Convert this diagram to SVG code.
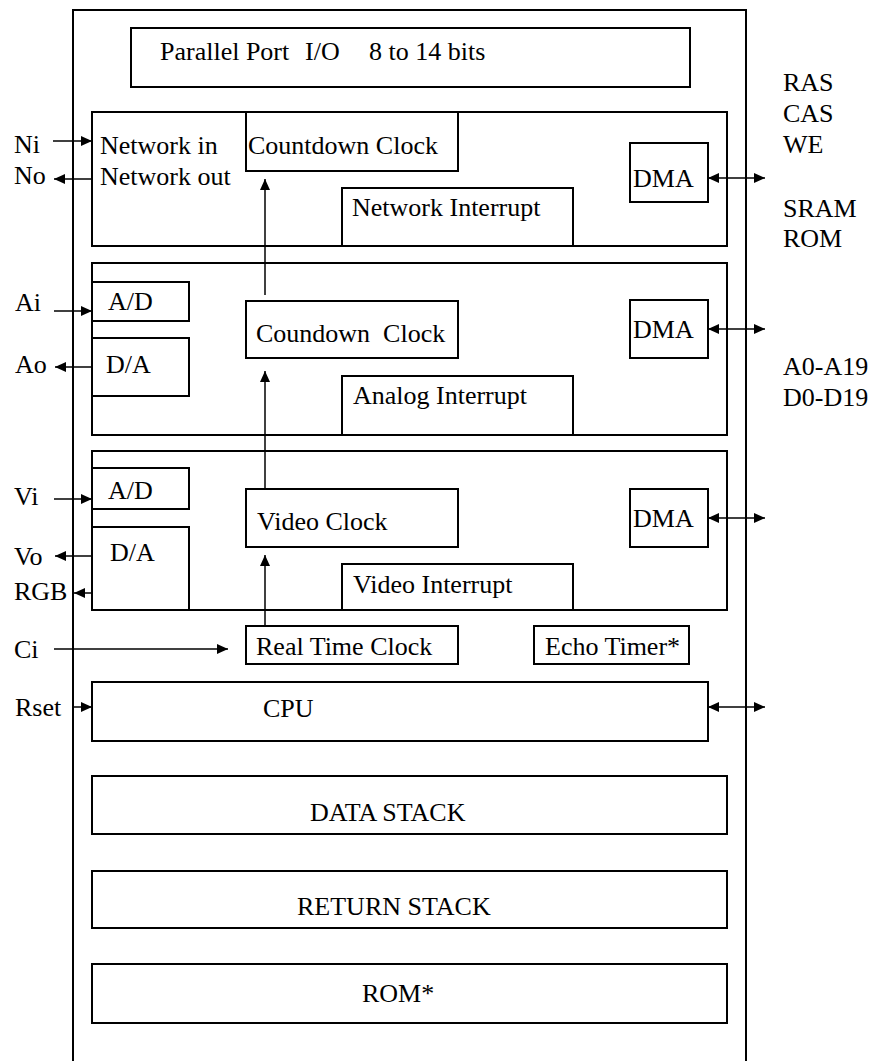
<svg xmlns="http://www.w3.org/2000/svg" width="873" height="1061" viewBox="0 0 873 1061">
<style>
.b{fill:#fff;stroke:#000;stroke-width:2}
.bn{fill:none;stroke:#000;stroke-width:2}
.c{fill:none;stroke:#000;stroke-width:1.5}
text{font-family:"Liberation Serif","Times New Roman",serif;font-size:26px;fill:#000}
</style>
<defs>
<marker id="ah" markerUnits="userSpaceOnUse" markerWidth="12" markerHeight="10" refX="11" refY="5" orient="auto-start-reverse" viewBox="0 0 12 10">
<path d="M0,0 L11,5 L0,10 z" fill="#000"/>
</marker>
</defs>
<rect width="873" height="1061" fill="#fff"/>
<g id="chip"><path class="bn" d="M73,1065 V10 H746 V1065"/></g>
<g id="parallel"><rect class="b" x="131" y="28" width="559" height="59"/>
<text y="60"><tspan x="160">Parallel Port</tspan><tspan x="305">I/O</tspan><tspan x="369">8 to 14 bits</tspan></text></g>
<g id="network"><rect class="b" x="92" y="112" width="635" height="134"/>
<text x="100" y="154">Network in</text><text x="100" y="185">Network out</text></g>
<g id="countdown1"><rect class="b" x="246" y="112" width="212" height="59"/><text x="248" y="154">Countdown Clock</text></g>
<g id="netint"><rect class="b" x="342" y="188" width="231" height="58"/><text x="352" y="216">Network Interrupt</text></g>
<g id="dma1"><rect class="b" x="630" y="143" width="78" height="59"/><text x="633" y="187">DMA</text></g>
<g id="analog"><rect class="b" x="92" y="263" width="635" height="172"/></g>
<g id="ad1"><rect class="b" x="92" y="282" width="97" height="39"/><text x="108" y="310">A/D</text></g>
<g id="da1"><rect class="b" x="92" y="338" width="97" height="58"/><text x="106" y="373">D/A</text></g>
<g id="countdown2"><rect class="b" x="246" y="301" width="212" height="57"/><text x="256" y="342" style="white-space:pre">Coundown  Clock</text></g>
<g id="anaint"><rect class="b" x="342" y="376" width="231" height="59"/><text x="353" y="404">Analog Interrupt</text></g>
<g id="dma2"><rect class="b" x="630" y="300" width="78" height="58"/><text x="633" y="338">DMA</text></g>
<g id="video"><rect class="b" x="92" y="451" width="635" height="159"/></g>
<g id="ad2"><rect class="b" x="92" y="468" width="97" height="41"/><text x="108" y="499">A/D</text></g>
<g id="da2"><rect class="b" x="92" y="527" width="97" height="83"/><text x="110" y="561">D/A</text></g>
<g id="vclock"><rect class="b" x="246" y="489" width="212" height="58"/><text x="257" y="530">Video Clock</text></g>
<g id="vidint"><rect class="b" x="342" y="564" width="231" height="46"/><text x="353" y="593">Video Interrupt</text></g>
<g id="dma3"><rect class="b" x="630" y="489" width="78" height="58"/><text x="633" y="527">DMA</text></g>
<g id="rtc"><rect class="b" x="246" y="626" width="212" height="38"/><text x="256" y="655">Real Time Clock</text></g>
<g id="echo"><rect class="b" x="534" y="626" width="155" height="38"/><text x="545" y="655">Echo Timer*</text></g>
<g id="cpu"><rect class="b" x="92" y="682" width="616" height="59"/><text x="263" y="717">CPU</text></g>
<g id="datastack"><rect class="b" x="92" y="776" width="635" height="58"/><text x="310" y="821">DATA STACK</text></g>
<g id="returnstack"><rect class="b" x="92" y="871" width="635" height="57"/><text x="297" y="915">RETURN STACK</text></g>
<g id="rom"><rect class="b" x="92" y="964" width="635" height="59"/><text x="362" y="1002">ROM*</text></g>
<g id="labels">
<text x="14" y="153">Ni</text><text x="14" y="184">No</text>
<text x="15" y="311">Ai</text><text x="15" y="373">Ao</text>
<text x="14" y="505">Vi</text><text x="14" y="565">Vo</text><text x="14" y="600">RGB</text>
<text x="14" y="658">Ci</text><text x="15" y="716">Rset</text>
<text x="783" y="91">RAS</text><text x="783" y="122">CAS</text><text x="783" y="153">WE</text>
<text x="783" y="217">SRAM</text><text x="783" y="247">ROM</text>
<text x="783" y="375">A0-A19</text><text x="783" y="406">D0-D19</text>
</g>
<g id="connectors">
<line class="c" x1="53" y1="141" x2="92" y2="141" marker-end="url(#ah)"/>
<line class="c" x1="92" y1="179" x2="54" y2="179" marker-end="url(#ah)"/>
<line class="c" x1="54" y1="311" x2="92" y2="311" marker-end="url(#ah)"/>
<line class="c" x1="92" y1="367" x2="55" y2="367" marker-end="url(#ah)"/>
<line class="c" x1="54" y1="499" x2="92" y2="499" marker-end="url(#ah)"/>
<line class="c" x1="92" y1="556" x2="55" y2="556" marker-end="url(#ah)"/>
<line class="c" x1="92" y1="593" x2="74" y2="593" marker-end="url(#ah)"/>
<line class="c" x1="54" y1="649" x2="228" y2="649" marker-end="url(#ah)"/>
<line class="c" x1="74" y1="707" x2="92" y2="707" marker-end="url(#ah)"/>
<line class="c" x1="265" y1="295" x2="265" y2="179" marker-end="url(#ah)"/>
<line class="c" x1="265" y1="489" x2="265" y2="371" marker-end="url(#ah)"/>
<line class="c" x1="265" y1="626" x2="265" y2="555" marker-end="url(#ah)"/>
<line class="c" x1="708" y1="178" x2="765" y2="178" marker-start="url(#ah)" marker-end="url(#ah)"/>
<line class="c" x1="708" y1="329" x2="765" y2="329" marker-start="url(#ah)" marker-end="url(#ah)"/>
<line class="c" x1="708" y1="518" x2="765" y2="518" marker-start="url(#ah)" marker-end="url(#ah)"/>
<line class="c" x1="708" y1="707" x2="765" y2="707" marker-start="url(#ah)" marker-end="url(#ah)"/>
</g>
</svg>
